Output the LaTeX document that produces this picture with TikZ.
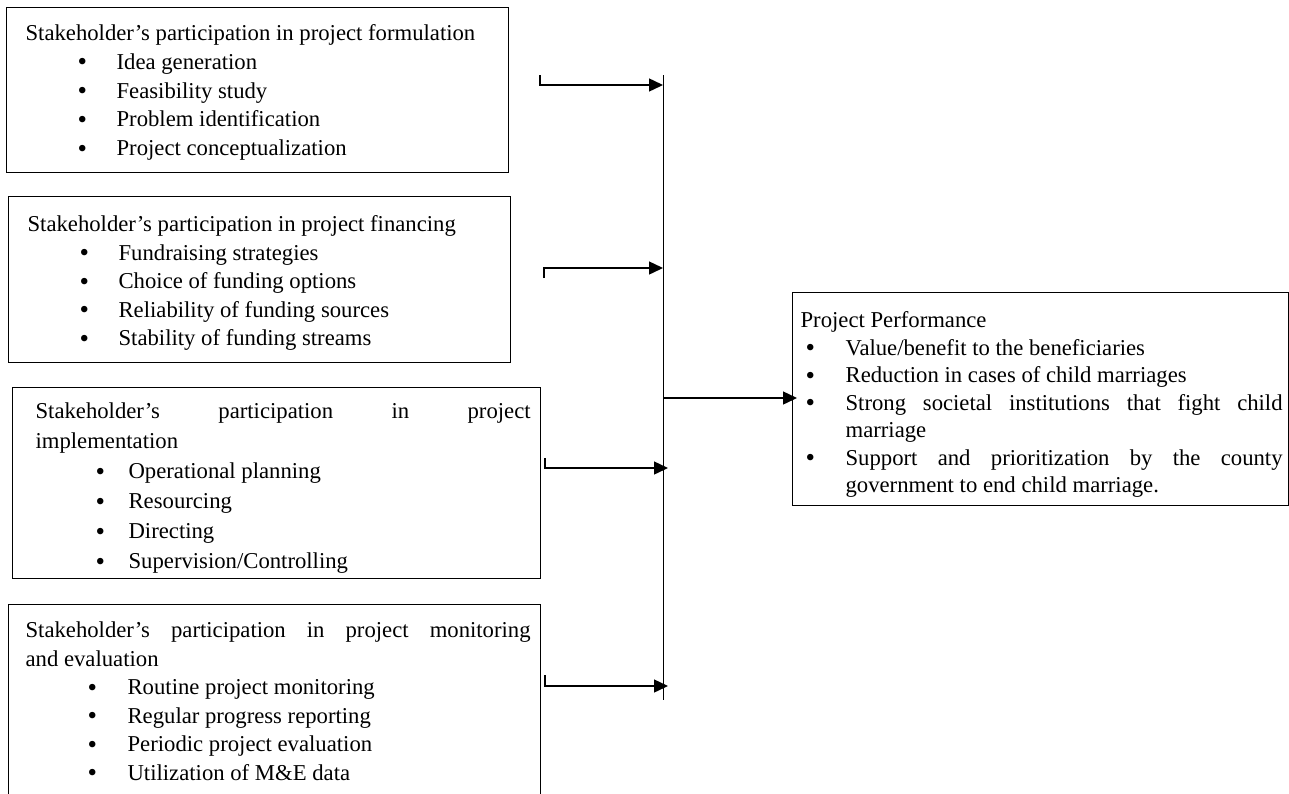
\documentclass[tikz,border=0pt]{standalone}
\usepackage{fontspec}
\setmainfont{Liberation Serif}
\usetikzlibrary{arrows.meta}
% #1 width, #2 height, #3 first baseline offset, #4 pitch, #5 content
\newcommand\boxtext[5]{\begin{minipage}[t][#2][t]{#1}\fontsize{22.7pt}{#4}\selectfont
\parindent=0pt\parskip=0pt\tolerance=10000\hyphenpenalty=10000
\mbox{}\par\vspace*{\dimexpr#3-#4\relax}#5\end{minipage}}
\newcommand\bigbul{\smash{\fontsize{27pt}{27pt}\selectfont\raisebox{-1.6pt}{•}}}
% title line: [rightskip]{leftskip}{text}
\newcommand\tln[3][0pt]{{\leftskip=#2\rightskip=#1\relax\noindent #3\par}}
% item line: [rightskip]{bullet x}{text x}{text}
\newcommand\itl[4][0pt]{{\leftskip=#3\rightskip=#1\relax\noindent\hspace*{\dimexpr#2-#3\relax}\makebox[\dimexpr#3-#2\relax][l]{\bigbul}#4\par}}
\tikzset{
  boxnode/.style={draw=black, line width=1.2pt, inner sep=0pt, anchor=north west},
  conn/.style={draw=black, line width=1.4pt, -{Triangle[length=14pt,width=13pt]}},
}
\begin{document}
\begin{tikzpicture}[x=1pt,y=-1pt]
\useasboundingbox (0,0) rectangle (1289,793);
\clip (0,0) rectangle (1289,793);
\node[boxnode] (f1) at (6,7) {\boxtext{502pt}{165pt}{33pt}{28.7pt}{%
\tln{19pt}{Stakeholder’s participation in project formulation}
\itl{71pt}{110pt}{Idea generation}
\itl{71pt}{110pt}{Feasibility study}
\itl{71pt}{110pt}{Problem identification}
\itl{71pt}{110pt}{Project conceptualization}}};
\node[boxnode] (f2) at (8,196) {\boxtext{502pt}{166pt}{35pt}{28.5pt}{%
\tln{19pt}{Stakeholder’s participation in project financing}
\itl{71pt}{110pt}{Fundraising strategies}
\itl{71pt}{110pt}{Choice of funding options}
\itl{71pt}{110pt}{Reliability of funding sources}
\itl{71pt}{110pt}{Stability of funding streams}}};
\node[boxnode] (f3) at (12,387) {\boxtext{528pt}{191pt}{31pt}{30pt}{%
\tln[10pt]{23pt}{Stakeholder’s participation in project\linebreak implementation}
\itl{83pt}{116pt}{Operational planning}
\itl{83pt}{116pt}{Resourcing}
\itl{83pt}{116pt}{Directing}
\itl{83pt}{116pt}{Supervision/Controlling}}};
\node[boxnode] (f4) at (8,604) {\boxtext{532pt}{250pt}{33pt}{28.5pt}{%
\tln[10pt]{17pt}{Stakeholder’s participation in project monitoring\linebreak and evaluation}
\itl{79pt}{119pt}{Routine project monitoring}
\itl{79pt}{119pt}{Regular progress reporting}
\itl{79pt}{119pt}{Periodic project evaluation}
\itl{79pt}{119pt}{Utilization of M\&E data}}};
\node[boxnode] (perf) at (792,292) {\boxtext{496pt}{213pt}{35pt}{27.5pt}{%
\tln{8pt}{Project Performance}
\itl[6pt]{13pt}{53pt}{Value/benefit to the beneficiaries}
\itl[6pt]{13pt}{53pt}{Reduction in cases of child marriages}
\itl[6pt]{13pt}{53pt}{Strong societal institutions that fight child\linebreak marriage}
\itl[6pt]{13pt}{53pt}{Support and prioritization by the county\linebreak government to end child marriage.}}};
% connectors
\coordinate (vtop) at (663,75);
\coordinate (vbot) at (663,700);
\draw[line width=1pt] (vtop) -- (vbot);
\coordinate (t1) at (540,75);  \coordinate (b1) at (540,85);  \coordinate (e1) at (663,85);
\coordinate (t2) at (544,278); \coordinate (b2) at (544,268); \coordinate (e2) at (663,268);
\coordinate (t3) at (545,458); \coordinate (b3) at (545,468); \coordinate (e3) at (668,468);
\coordinate (t4) at (545,675); \coordinate (b4) at (545,686); \coordinate (e4) at (668,686);
\draw[conn] (t1) -- (b1) -- (e1);
\draw[conn] (t2) -- (b2) -- (e2);
\draw[conn] (t3) -- (b3) -- (e3);
\draw[conn] (t4) -- (b4) -- (e4);
\coordinate (j) at (663,398);
\draw[conn] (j) -- ([xshift=5pt]j -| perf.west);
\end{tikzpicture}
\end{document}
